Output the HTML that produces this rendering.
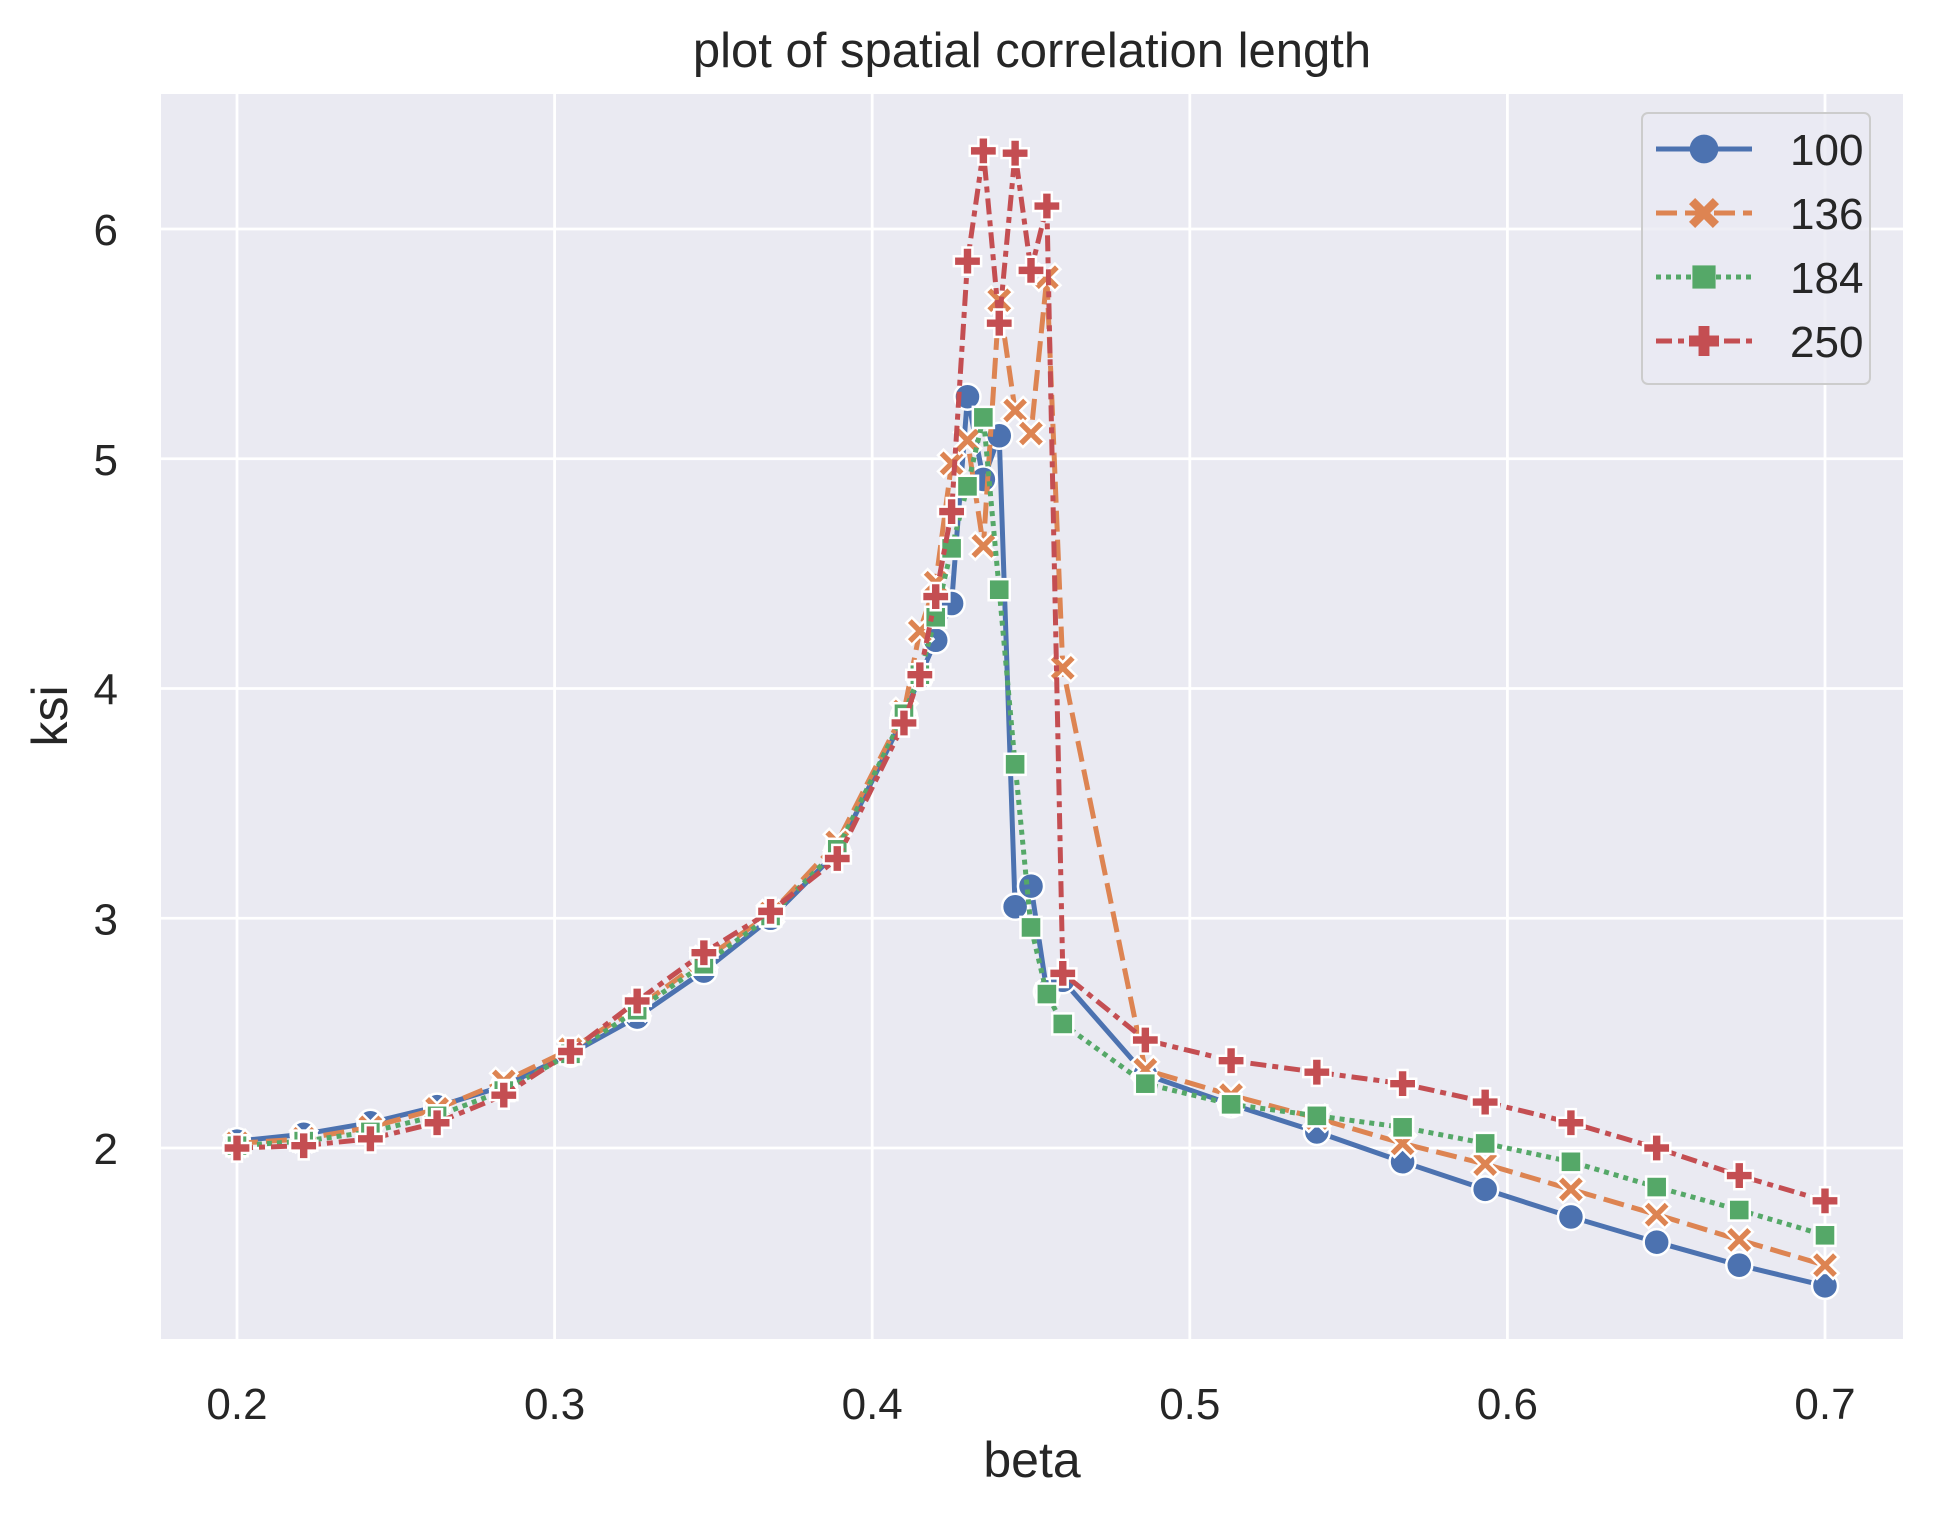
<!DOCTYPE html>
<html><head><meta charset="utf-8"><style>
html,body{margin:0;padding:0;background:#fff;}
svg{display:block;font-family:"Liberation Sans",Arial,sans-serif;}
</style></head><body>
<svg id="chart" width="1934" height="1515" viewBox="0 0 1934 1515" xmlns="http://www.w3.org/2000/svg">
<rect x="0" y="0" width="1934" height="1515" fill="#fff"/>
<rect x="161" y="94" width="1742" height="1245" fill="#eaeaf2"/>
<g id="grid"></g>
<g id="ticks"></g>
<g id="series"></g>
<text x="1032" y="67" text-anchor="middle" font-size="49" fill="#262626">plot of spatial correlation length</text>
<text x="1032" y="1477" text-anchor="middle" font-size="50" fill="#262626">beta</text>
<text transform="translate(67,716) rotate(-90)" text-anchor="middle" font-size="50" fill="#262626">ksi</text>
<g id="legend"></g>
</svg>
<script>
const betas = [0.2,0.221,0.242,0.263,0.284,0.305,0.326,0.347,0.368,0.389,0.41,0.415,0.42,0.425,0.43,0.435,0.44,0.445,0.45,0.455,0.46,0.486,0.513,0.54,0.567,0.593,0.62,0.647,0.673,0.7];
const ksi100 = [2.03,2.06,2.11,2.18,2.27,2.41,2.57,2.77,3.0,3.29,3.88,4.05,4.21,4.37,5.27,4.91,5.10,3.05,3.14,2.68,2.73,2.32,2.19,2.07,1.94,1.82,1.70,1.59,1.49,1.40];
const ksi136 = [2.02,2.04,2.09,2.17,2.29,2.43,2.61,2.82,3.02,3.33,3.90,4.25,4.46,4.98,5.08,4.62,5.69,5.21,5.11,5.79,4.09,2.34,2.23,2.13,2.02,1.93,1.82,1.71,1.60,1.49];
const ksi184 = [2.01,2.03,2.07,2.14,2.25,2.41,2.60,2.80,3.01,3.30,3.89,4.06,4.31,4.61,4.88,5.18,4.43,3.67,2.96,2.67,2.54,2.28,2.19,2.14,2.09,2.02,1.94,1.83,1.73,1.62];
const ksi250 = [2.00,2.01,2.04,2.11,2.23,2.42,2.64,2.85,3.03,3.26,3.85,4.06,4.40,4.77,5.86,6.34,5.59,6.33,5.82,6.10,2.76,2.47,2.38,2.33,2.28,2.20,2.11,2.00,1.88,1.77];
const seriesNames = ["100","136","184","250"];
const xTicks = [0.2,0.3,0.4,0.5,0.6,0.7];
const xTickLabels = ["0.2","0.3","0.4","0.5","0.6","0.7"];
const yTicks = [2,3,4,5,6];
const yTickLabels = ["2","3","4","5","6"];

const NS="http://www.w3.org/2000/svg";
const X0=161,X1=1903,Y0=94,Y1=1339;
const xs=v=>237+(v-0.2)*3176;
const ys=v=>1148-(v-2)*229.75;
function mk(tag,attrs,parent){const e=document.createElementNS(NS,tag);for(const k in attrs)e.setAttribute(k,attrs[k]);parent.appendChild(e);return e;}
const grid=document.getElementById('grid'),ticks=document.getElementById('ticks');
xTicks.forEach((t,i)=>{
  const l=mk('line',{x1:xs(t),x2:xs(t),y1:Y0,y2:Y1,stroke:'#fff','stroke-width':2.8},grid);
  
  
  const tx=mk('text',{x:xs(t),y:1419,'text-anchor':'middle','font-size':44,fill:'#262626'},ticks);
  tx.textContent=xTickLabels[i];
  
  
});
yTicks.forEach((t,i)=>{
  const l=mk('line',{x1:X0,x2:X1,y1:ys(t),y2:ys(t),stroke:'#fff','stroke-width':2.8},grid);
  
  
  const tx=mk('text',{x:118,y:ys(t)+16,'text-anchor':'end','font-size':44,fill:'#262626'},ticks);
  tx.textContent=yTickLabels[i];
  
  
});
const styles=[
 {c:'#4c72b0',dash:'',m:'o'},
 {c:'#dd8452',dash:'21 8',m:'X'},
 {c:'#55a868',dash:'5 5',m:'s'},
 {c:'#c44e52',dash:'16 6 6 6',m:'P'}];
function marker(type,x,y,c,parent,s){
  s=(s||1)*1.24;let e;
  if(type==='o') e=mk('circle',{cx:x,cy:y,r:10.5*s},parent);
  else if(type==='s') e=mk('rect',{x:x-8.5*s,y:y-8.5*s,width:17*s,height:17*s},parent);
  else if(type==='X'){const a=4.5*s,b=11*s;e=mk('path',{d:`M${x-b},${y-b+a}L${x-b+a},${y-b}L${x},${y-a}L${x+b-a},${y-b}L${x+b},${y-b+a}L${x+a},${y}L${x+b},${y+b-a}L${x+b-a},${y+b}L${x},${y+a}L${x-b+a},${y+b}L${x-b},${y+b-a}L${x-a},${y}Z`},parent);}
  else {const a=4*s,b=11*s;e=mk('path',{d:`M${x-a},${y-b}H${x+a}V${y-a}H${x+b}V${y+a}H${x+a}V${y+b}H${x-a}V${y+a}H${x-b}V${y-a}H${x-a}Z`},parent);}
  e.setAttribute('fill',c);e.setAttribute('stroke','#fff');e.setAttribute('stroke-width',2.5);
  return e;
}
const allSeries=[ksi100,ksi136,ksi184,ksi250];
const sg=document.getElementById('series');
allSeries.forEach((vals,si)=>{
  const st=styles[si];
  const g=mk('g',{},sg);
  
  
  const d=vals.map((v,i)=>(i?'L':'M')+xs(betas[i]).toFixed(1)+','+ys(v).toFixed(1)).join('');
  const p=mk('path',{d:d,fill:'none',stroke:st.c,'stroke-width':5,'stroke-dasharray':st.dash},g);
  
  
  vals.forEach((v,i)=>{
    const m=marker(st.m,xs(betas[i]),ys(v),st.c,g);
    
    
  });
});
const lg=document.getElementById('legend');
const box=mk('rect',{x:1642,y:113,width:228,height:271,rx:6,fill:'#eaeaf2','fill-opacity':0.8,stroke:'#cccccc','stroke-width':2},lg);


seriesNames.forEach((n,i)=>{
  const y=149+i*64,st=styles[i];
  const g=mk('g',{},lg);
  
  
  mk('line',{x1:1656,x2:1752,y1:y,y2:y,stroke:st.c,'stroke-width':5,'stroke-dasharray':st.dash},g);
  marker(st.m,1704,y,st.c,g,1.1).setAttribute('stroke-width',0);
  const t=mk('text',{x:1790,y:y+16,'font-size':44,fill:'#262626'},g);
  t.textContent=n;
});
</script>
</body></html>
